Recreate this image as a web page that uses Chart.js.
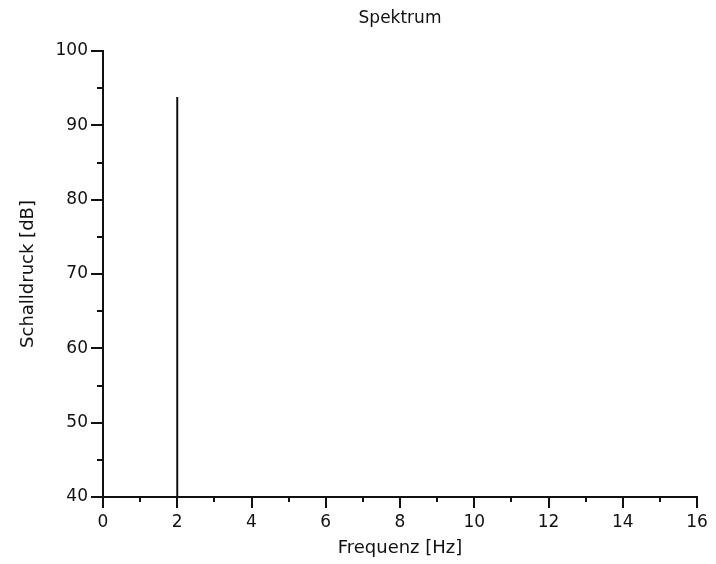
<!DOCTYPE html>
<html>
<head>
<meta charset="utf-8">
<script src="https://cdn.jsdelivr.net/npm/chart.js@4"></script>
<style>
  html, body { margin: 0; padding: 0; background: #fff; }
  #wrap { width: 716px; height: 564px; }
</style>
</head>
<body>
<div id="wrap"><canvas id="spectrumChart" width="716" height="564"></canvas></div>
<script>
// spectrum data (single peak)
const peakFreq = [2];
const peakLevel = [93.8];
const xTicks = [0, 2, 4, 6, 8, 10, 12, 14, 16];
const yTicks = [40, 50, 60, 70, 80, 90, 100];

const FONT = 'DejaVu Sans';
const INK = '#111';

// stems go from the bottom of the y range up to each level
const stemPoints = [];
peakFreq.forEach((f, i) => {
    stemPoints.push({ x: f, y: yTicks[0] });
    stemPoints.push({ x: f, y: peakLevel[i] });
    stemPoints.push({ x: NaN, y: NaN });
});

// short ticks halfway between the labelled ones
const minorTicks = {
    id: 'minorTicks',
    afterDraw(chart) {
        const ctx = chart.ctx;
        const xs = chart.scales.x, ys = chart.scales.y;
        ctx.save();
        ctx.strokeStyle = INK;
        ctx.lineWidth = 2;
        ctx.beginPath();
        for (let i = 0; i < xTicks.length - 1; i++) {
            const px = Math.round(xs.getPixelForValue((xTicks[i] + xTicks[i + 1]) / 2));
            ctx.moveTo(px, xs.top);
            ctx.lineTo(px, xs.top + 5);
        }
        for (let i = 0; i < yTicks.length - 1; i++) {
            const py = Math.round(ys.getPixelForValue((yTicks[i] + yTicks[i + 1]) / 2));
            ctx.moveTo(ys.right - 6, py);
            ctx.lineTo(ys.right, py);
        }
        ctx.stroke();
        ctx.restore();
    }
};

new Chart(document.getElementById('spectrumChart'), {
    type: 'scatter',
    data: {
        datasets: [{
            data: stemPoints,
            showLine: true,
            spanGaps: false,
            borderColor: INK,
            borderWidth: 2,
            pointRadius: 0
        }]
    },
    options: {
        responsive: false,
        animation: false,
        layout: { padding: { left: 0, right: 19, top: 0, bottom: 0 } },
        plugins: {
            legend: { display: false },
            tooltip: { enabled: false }
        },
        scales: {
            // empty top axis, only used to centre the title over the plot
            top: {
                type: 'linear',
                position: 'top',
                min: xTicks[0],
                max: xTicks[xTicks.length - 1],
                afterFit: s => { s.height = 51; },
                border: { display: false },
                grid: { display: false },
                ticks: { display: false },
                title: {
                    display: true,
                    text: 'Spektrum',
                    color: INK,
                    font: { family: FONT, size: 17 },
                    padding: { top: 8, bottom: 0 }
                }
            },
            x: {
                type: 'linear',
                position: 'bottom',
                min: xTicks[0],
                max: xTicks[xTicks.length - 1],
                afterBuildTicks: s => { s.ticks = xTicks.map(v => ({ value: v })); },
                afterFit: s => { s.height = 67; },
                border: { display: true, color: INK, width: 2 },
                grid: { drawOnChartArea: false, tickLength: 11, tickColor: INK, lineWidth: 2 },
                ticks: { color: INK, padding: 4, maxRotation: 0, font: { family: FONT, size: 17 } },
                title: {
                    display: true,
                    text: 'Frequenz [Hz]',
                    color: INK,
                    font: { family: FONT, size: 18 },
                    padding: { top: 0, bottom: 5 }
                }
            },
            y: {
                min: yTicks[0],
                max: yTicks[yTicks.length - 1],
                afterBuildTicks: s => { s.ticks = yTicks.map(v => ({ value: v })); },
                afterFit: s => { s.width = 103; },
                border: { display: true, color: INK, width: 2 },
                grid: { drawOnChartArea: false, tickLength: 12, tickColor: INK, lineWidth: 2 },
                ticks: { color: INK, padding: 3, font: { family: FONT, size: 17 } },
                title: {
                    display: true,
                    text: 'Schalldruck [dB]',
                    color: INK,
                    font: { family: FONT, size: 18 },
                    padding: { top: 18, bottom: 0 }
                }
            }
        }
    },
    plugins: [minorTicks]
});
</script>
</body>
</html>
